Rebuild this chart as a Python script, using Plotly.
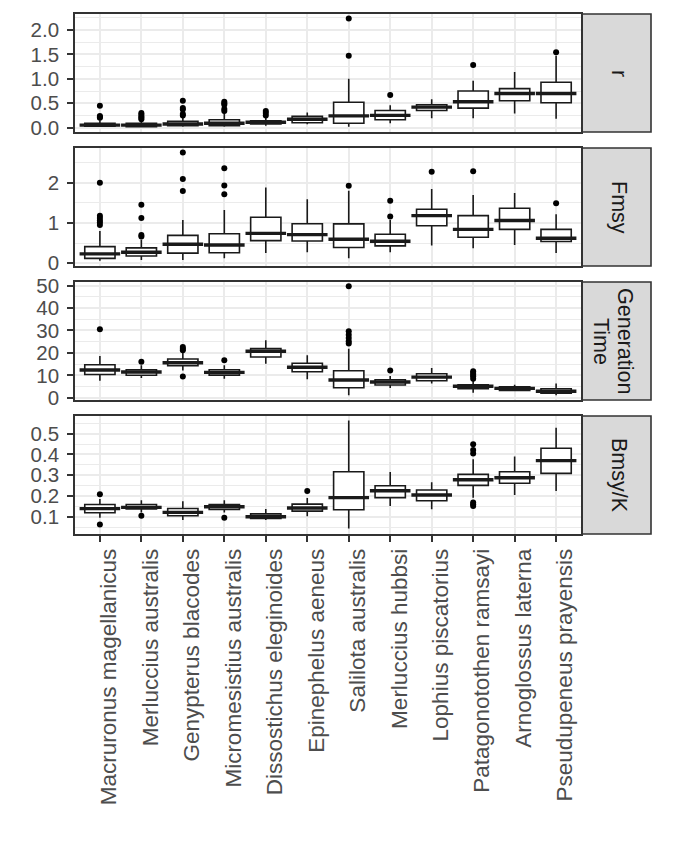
import plotly.graph_objects as go

species = ["Macruronus magellanicus", "Merluccius australis", "Genypterus blacodes",
           "Micromesistius australis", "Dissostichus eleginoides", "Epinephelus aeneus",
           "Salilota australis", "Merluccius hubbsi", "Lophius piscatorius",
           "Patagonotothen ramsayi", "Arnoglossus laterna", "Pseudupeneus prayensis"]

# r
r_q1 = [0.03, 0.02, 0.04, 0.04, 0.075, 0.10, 0.09, 0.16, 0.35, 0.40, 0.55, 0.51]
r_med = [0.05, 0.05, 0.075, 0.09, 0.11, 0.17, 0.24, 0.25, 0.42, 0.53, 0.70, 0.70]
r_q3 = [0.09, 0.09, 0.13, 0.16, 0.14, 0.23, 0.52, 0.35, 0.47, 0.75, 0.80, 0.93]
r_lo = [0.01, 0.01, 0.02, 0.02, 0.04, 0.07, 0.02, 0.09, 0.19, 0.19, 0.29, 0.18]
r_hi = [0.15, 0.14, 0.22, 0.30, 0.20, 0.31, 1.00, 0.46, 0.58, 0.96, 1.14, 1.475]
r_out = [[0.45, 0.24, 0.22, 0.20], [0.30, 0.27, 0.23, 0.20, 0.17], [0.55, 0.40, 0.37, 0.28, 0.25],
         [0.53, 0.50, 0.47, 0.38, 0.34], [0.34, 0.30, 0.25], [], [2.24, 1.475], [0.67], [],
         [1.285], [], [1.545]]

# Fmsy
f_q1 = [0.12, 0.18, 0.25, 0.26, 0.56, 0.55, 0.39, 0.43, 0.93, 0.645, 0.84, 0.54]
f_med = [0.23, 0.27, 0.47, 0.45, 0.74, 0.71, 0.595, 0.545, 1.18, 0.84, 1.06, 0.62]
f_q3 = [0.41, 0.38, 0.69, 0.73, 1.14, 0.98, 0.975, 0.72, 1.34, 1.18, 1.365, 0.84]
f_lo = [0.06, 0.08, 0.08, 0.12, 0.25, 0.27, 0.12, 0.27, 0.44, 0.37, 0.45, 0.25]
f_hi = [0.80, 0.58, 1.07, 1.32, 1.88, 1.59, 1.80, 1.07, 1.84, 1.69, 1.74, 1.215]
f_out = [[2.0, 1.18, 1.12, 1.06, 1.01, 0.95], [1.45, 1.12, 0.70, 0.66], [2.75, 2.09, 1.79],
         [2.36, 1.93, 1.71], [], [], [1.92], [1.55, 1.16], [2.27], [2.28], [], [1.49]]

# Generation Time
g_q1 = [10.4, 10.0, 14.3, 10.1, 18.2, 11.6, 4.46, 5.7, 7.6, 4.0, 3.3, 2.0]
g_med = [12.4, 11.5, 15.6, 11.3, 20.7, 13.6, 7.9, 7.0, 9.2, 5.1, 4.2, 2.9]
g_q3 = [14.7, 12.5, 17.3, 12.5, 21.9, 15.4, 12.05, 8.0, 10.7, 5.8, 4.9, 4.0]
g_lo = [7.6, 8.8, 12.2, 8.5, 15.2, 8.2, 1.07, 4.3, 6.3, 2.2, 2.9, 1.1]
g_hi = [18.6, 14.5, 20.4, 14.5, 25.6, 18.9, 21.9, 9.7, 13.3, 7.5, 5.8, 6.3]
g_out = [[30.5], [16.1], [22.6, 21.8, 21.2, 9.5], [16.7], [], [],
         [49.7, 29.6, 28.1, 26.6, 25.2, 24.2], [12.2], [], [11.8, 11.0, 10.3, 9.6, 8.5], [], []]

# Bmsy/K
b_q1 = [0.119, 0.137, 0.105, 0.135, 0.092, 0.127, 0.134, 0.192, 0.177, 0.251, 0.261, 0.309]
b_med = [0.139, 0.145, 0.121, 0.148, 0.10, 0.142, 0.192, 0.225, 0.205, 0.278, 0.288, 0.37]
b_q3 = [0.159, 0.159, 0.14, 0.159, 0.114, 0.161, 0.317, 0.249, 0.229, 0.304, 0.317, 0.43]
b_lo = [0.095, 0.12, 0.084, 0.12, 0.084, 0.103, 0.044, 0.152, 0.136, 0.192, 0.205, 0.224]
b_hi = [0.185, 0.18, 0.175, 0.18, 0.137, 0.19, 0.563, 0.315, 0.266, 0.377, 0.39, 0.529]
b_out = [[0.208, 0.063], [0.105], [], [0.095], [], [0.224], [], [], [],
         [0.449, 0.421, 0.405, 0.169, 0.16, 0.152], [], []]

# strip labels, one list per panel (each entry is one line of rotated text)
strip_lines = [["r"], ["Fmsy"], ["Generation", "Time"], ["Bmsy/K"]]

panels = [
    (r_q1, r_med, r_q3, r_lo, r_hi, r_out),
    (f_q1, f_med, f_q3, f_lo, f_hi, f_out),
    (g_q1, g_med, g_q3, g_lo, g_hi, g_out),
    (b_q1, b_med, b_q3, b_lo, b_hi, b_out),
]

# the page body has an 8px margin, so work in window pixels and shift back
OFF = 8
W, H = 682 - OFF, 841 - OFF


def fx(px):
    return (px - OFF) / W


def fy(px):
    return 1 - (px - OFF) / H


px_rows = [(14, 132), (148, 266), (282, 400), (416, 534)]
y_ranges = [[-0.09, 2.33], [-0.07, 2.86], [-1.0, 51.6], [0.017, 0.585]]
y_dticks = [0.5, 1, 10, 0.1]
y_tick0 = [0, 0, 0, 0.1]
y_fmt = [".1f", "d", "d", ".1f"]

FONT = "Liberation Sans"
DARK = "#333333"
GRID = "#EBEBEB"

fig = go.Figure()
layout = {}
for i, (q1, med, q3, lo, hi, out) in enumerate(panels):
    n = i + 1
    xa = "x" if n == 1 else f"x{n}"
    ya = "y" if n == 1 else f"y{n}"
    fig.add_trace(go.Box(x=species, q1=q1, median=med, q3=q3, lowerfence=lo, upperfence=hi,
                         boxpoints=False, width=0.73, whiskerwidth=0,
                         fillcolor="white", line=dict(color="#1A1A1A", width=1.6),
                         xaxis=xa, yaxis=ya, showlegend=False, hoverinfo="skip"))
    # thicker median line, like ggplot
    fig.add_trace(go.Scatter(x=species, y=med, mode="markers", xaxis=xa, yaxis=ya,
                             marker=dict(symbol="line-ew", size=29,
                                         line=dict(color="#1A1A1A", width=3.4)),
                             showlegend=False, hoverinfo="skip"))
    ox, oy = [], []
    for sp, vals in zip(species, out):
        for v in vals:
            ox.append(sp)
            oy.append(v)
    fig.add_trace(go.Scatter(x=ox, y=oy, mode="markers", xaxis=xa, yaxis=ya,
                             marker=dict(color="black", size=6),
                             showlegend=False, hoverinfo="skip"))

    top, bot = px_rows[i]
    last = n == 4
    layout["xaxis" if n == 1 else f"xaxis{n}"] = dict(
        domain=[fx(75), fx(581)], anchor=ya, type="category", automargin=False,
        categoryorder="array", categoryarray=species, range=[-0.6, 11.6],
        showgrid=True, gridcolor=GRID, gridwidth=2,
        showline=True, mirror=True, linecolor=DARK, linewidth=1.6,
        ticks="outside" if last else "", ticklen=6, tickwidth=1.6, tickcolor=DARK,
        showticklabels=last, tickangle=-90, ticklabelstandoff=-2, ticklabelshift=9,
        tickfont=dict(family=FONT, size=22.5, color="#4D4D4D"), zeroline=False)
    layout["yaxis" if n == 1 else f"yaxis{n}"] = dict(
        domain=[fy(bot), fy(top)], anchor=xa, range=y_ranges[i], dtick=y_dticks[i],
        tick0=y_tick0[i], tickformat=y_fmt[i], automargin=False,
        showgrid=True, gridcolor=GRID, gridwidth=2,
        minor=dict(dtick=y_dticks[i] / 2, showgrid=True, gridcolor=GRID, gridwidth=1),
        showline=True, mirror=True, linecolor=DARK, linewidth=1.6,
        ticks="outside", ticklen=6, tickwidth=1.6, tickcolor=DARK, ticklabelstandoff=4,
        tickfont=dict(family=FONT, size=20.5, color="#4D4D4D"), zeroline=False)

shapes = []
annotations = []
for i, lines in enumerate(strip_lines):
    top, bot = px_rows[i]
    shapes.append(dict(type="rect", xref="paper", yref="paper",
                       x0=fx(582), x1=fx(651), y0=fy(bot), y1=fy(top),
                       fillcolor="#D9D9D9", line=dict(color=DARK, width=1.6), layer="below"))
    k = len(lines)
    for j, txt in enumerate(lines):
        # first line sits on the right when text is turned clockwise
        cx = (619 if k == 1 else 613) + ((k - 1) / 2 - j) * 24
        annotations.append(dict(xref="paper", yref="paper", x=fx(cx), y=fy((top + bot) / 2),
                                xanchor="center", yanchor="middle",
                                text=txt, showarrow=False, textangle=90,
                                font=dict(family=FONT, size=21.5, color="#1A1A1A")))

fig.update_layout(**layout)
fig.update_layout(width=W, height=H, margin=dict(l=0, r=0, t=0, b=0),
                  paper_bgcolor="white", plot_bgcolor="white", showlegend=False,
                  shapes=shapes, annotations=annotations)

fig.write_html("out.html")
